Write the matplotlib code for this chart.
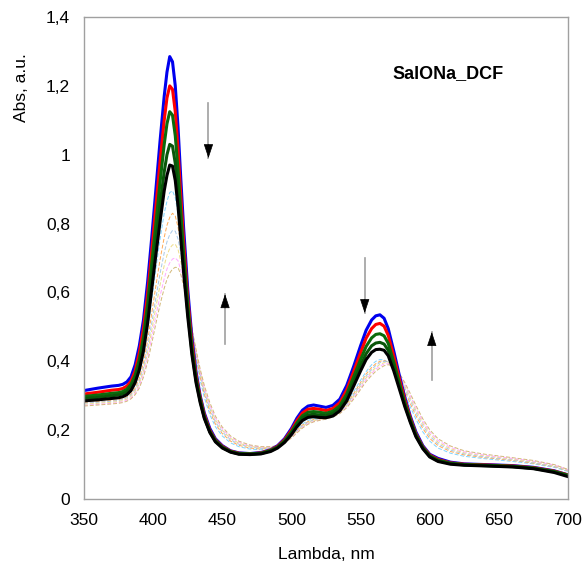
import numpy as np
import matplotlib
matplotlib.use('Agg')
import matplotlib.pyplot as plt
from matplotlib.ticker import FuncFormatter

plt.rcParams['font.family'] = ['Liberation Sans', 'DejaVu Sans']

# wavelength grid (nm)
wl = [350, 360, 370, 375, 378, 381, 384, 387, 390, 393,
      396, 399, 402, 405, 408, 410, 412, 414, 416, 418,
      420, 422, 425, 428, 431, 434, 437, 441, 445, 450,
      456, 462, 470, 478, 485, 490, 495, 500, 504, 508,
      512, 516, 520, 525, 530, 535, 540, 545, 550, 554,
      558, 561, 564, 567, 570, 574, 578, 582, 586, 590,
      595, 600, 606, 615, 625, 640, 660, 675, 690, 700]

# thick spectra (absorbance going down)
abs_blue = [0.315, 0.322, 0.328, 0.330, 0.333, 0.340, 0.355, 0.39, 0.445, 0.52,
            0.63, 0.76, 0.90, 1.04, 1.17, 1.24, 1.285, 1.27, 1.20, 1.08,
            0.93, 0.79, 0.61, 0.47, 0.37, 0.30, 0.25, 0.205, 0.175, 0.155,
            0.14, 0.134, 0.132, 0.135, 0.143, 0.155, 0.175, 0.205, 0.235, 0.258,
            0.27, 0.273, 0.27, 0.266, 0.272, 0.29, 0.33, 0.385, 0.445, 0.49,
            0.52, 0.532, 0.535, 0.525, 0.495, 0.43, 0.36, 0.295, 0.24, 0.195,
            0.155, 0.13, 0.118, 0.107, 0.102, 0.10, 0.097, 0.092, 0.082, 0.07]
abs_red = [0.305, 0.31, 0.316, 0.318, 0.321, 0.328, 0.342, 0.372, 0.425, 0.495,
           0.595, 0.72, 0.85, 0.98, 1.10, 1.165, 1.20, 1.19, 1.125, 1.015,
           0.88, 0.75, 0.585, 0.455, 0.36, 0.295, 0.245, 0.2, 0.172, 0.153,
           0.139, 0.133, 0.131, 0.134, 0.142, 0.153, 0.172, 0.2, 0.228, 0.25,
           0.261, 0.263, 0.261, 0.257, 0.263, 0.28, 0.317, 0.37, 0.425, 0.467,
           0.495, 0.507, 0.51, 0.502, 0.475, 0.415, 0.35, 0.288, 0.235, 0.19,
           0.152, 0.128, 0.115, 0.105, 0.101, 0.099, 0.096, 0.091, 0.081, 0.07]
abs_green1 = [0.298, 0.302, 0.307, 0.309, 0.312, 0.319, 0.333, 0.36, 0.405, 0.47,
              0.565, 0.685, 0.80, 0.92, 1.03, 1.09, 1.125, 1.115, 1.055, 0.955,
              0.835, 0.715, 0.565, 0.44, 0.35, 0.29, 0.24, 0.197, 0.17, 0.151,
              0.138, 0.132, 0.131, 0.133, 0.141, 0.151, 0.169, 0.195, 0.221, 0.242,
              0.252, 0.254, 0.252, 0.249, 0.255, 0.271, 0.305, 0.355, 0.405, 0.443,
              0.468, 0.478, 0.48, 0.474, 0.452, 0.398, 0.338, 0.28, 0.23, 0.187,
              0.15, 0.126, 0.113, 0.104, 0.1, 0.098, 0.095, 0.09, 0.08, 0.069]
abs_green2 = [0.292, 0.295, 0.3, 0.302, 0.305, 0.311, 0.324, 0.35, 0.39, 0.45,
              0.535, 0.645, 0.75, 0.855, 0.95, 1.0, 1.03, 1.025, 0.975, 0.89,
              0.785, 0.68, 0.545, 0.43, 0.345, 0.285, 0.237, 0.195, 0.168, 0.15,
              0.137, 0.131, 0.13, 0.132, 0.14, 0.15, 0.167, 0.191, 0.215, 0.235,
              0.244, 0.246, 0.244, 0.242, 0.248, 0.263, 0.295, 0.34, 0.387, 0.422,
              0.445, 0.453, 0.455, 0.45, 0.432, 0.383, 0.328, 0.274, 0.226, 0.184,
              0.148, 0.124, 0.111, 0.103, 0.099, 0.097, 0.094, 0.089, 0.079, 0.068]
abs_black = [0.285, 0.288, 0.292, 0.294, 0.297, 0.303, 0.315, 0.338, 0.375, 0.43,
             0.51, 0.61, 0.71, 0.805, 0.895, 0.94, 0.97, 0.967, 0.925, 0.85,
             0.755, 0.66, 0.53, 0.42, 0.338, 0.28, 0.234, 0.193, 0.166, 0.148,
             0.136, 0.13, 0.129, 0.131, 0.138, 0.148, 0.164, 0.187, 0.21, 0.228,
             0.237, 0.239, 0.237, 0.236, 0.241, 0.256, 0.285, 0.328, 0.372, 0.405,
             0.426, 0.434, 0.435, 0.432, 0.416, 0.372, 0.32, 0.268, 0.222, 0.181,
             0.146, 0.122, 0.109, 0.101, 0.098, 0.096, 0.093, 0.088, 0.077, 0.065]

# thin dashed spectra (later times)
abs_t1 = [0.285, 0.288, 0.291, 0.293, 0.296, 0.302, 0.313, 0.333, 0.365, 0.415,
          0.49, 0.58, 0.67, 0.755, 0.83, 0.865, 0.89, 0.895, 0.875, 0.83,
          0.77, 0.70, 0.59, 0.49, 0.41, 0.345, 0.295, 0.245, 0.21, 0.183,
          0.163, 0.152, 0.145, 0.143, 0.147, 0.153, 0.166, 0.185, 0.203, 0.218,
          0.228, 0.233, 0.235, 0.236, 0.243, 0.258, 0.28, 0.312, 0.345, 0.37,
          0.39, 0.4, 0.405, 0.404, 0.397, 0.375, 0.343, 0.305, 0.267, 0.232,
          0.195, 0.168, 0.148, 0.133, 0.124, 0.117, 0.109, 0.102, 0.092, 0.08]
abs_t2 = [0.28, 0.283, 0.286, 0.288, 0.291, 0.296, 0.305, 0.322, 0.35, 0.395,
          0.46, 0.54, 0.62, 0.695, 0.76, 0.795, 0.818, 0.83, 0.822, 0.79,
          0.74, 0.68, 0.585, 0.495, 0.42, 0.355, 0.305, 0.255, 0.218, 0.19,
          0.168, 0.156, 0.148, 0.145, 0.148, 0.154, 0.166, 0.184, 0.2, 0.215,
          0.225, 0.231, 0.234, 0.236, 0.242, 0.255, 0.276, 0.306, 0.338, 0.363,
          0.382, 0.393, 0.4, 0.402, 0.398, 0.38, 0.35, 0.314, 0.277, 0.242,
          0.205, 0.176, 0.155, 0.138, 0.128, 0.12, 0.112, 0.104, 0.094, 0.082]
abs_t3 = [0.278, 0.281, 0.284, 0.286, 0.289, 0.294, 0.302, 0.317, 0.342, 0.382,
          0.44, 0.512, 0.585, 0.655, 0.715, 0.747, 0.768, 0.78, 0.778, 0.755,
          0.715, 0.665, 0.58, 0.495, 0.425, 0.362, 0.312, 0.262, 0.224, 0.195,
          0.172, 0.159, 0.151, 0.147, 0.149, 0.154, 0.165, 0.182, 0.198, 0.212,
          0.223, 0.229, 0.233, 0.235, 0.241, 0.253, 0.273, 0.302, 0.333, 0.357,
          0.376, 0.388, 0.396, 0.4, 0.398, 0.383, 0.356, 0.322, 0.286, 0.251,
          0.213, 0.183, 0.16, 0.142, 0.131, 0.122, 0.114, 0.106, 0.095, 0.083]
abs_t4 = [0.275, 0.278, 0.281, 0.283, 0.286, 0.29, 0.298, 0.312, 0.335, 0.372,
          0.425, 0.49, 0.558, 0.622, 0.678, 0.708, 0.728, 0.738, 0.74, 0.725,
          0.69, 0.648, 0.572, 0.495, 0.428, 0.368, 0.318, 0.268, 0.23, 0.2,
          0.176, 0.162, 0.153, 0.149, 0.15, 0.155, 0.165, 0.181, 0.196, 0.21,
          0.221, 0.227, 0.231, 0.234, 0.24, 0.251, 0.27, 0.298, 0.328, 0.352,
          0.37, 0.382, 0.391, 0.396, 0.396, 0.385, 0.36, 0.328, 0.293, 0.258,
          0.22, 0.189, 0.165, 0.146, 0.134, 0.125, 0.116, 0.108, 0.097, 0.084]
abs_t5 = [0.272, 0.275, 0.278, 0.28, 0.283, 0.287, 0.294, 0.307, 0.328, 0.362,
          0.41, 0.47, 0.532, 0.59, 0.64, 0.668, 0.686, 0.697, 0.7, 0.692,
          0.665, 0.628, 0.562, 0.492, 0.43, 0.372, 0.323, 0.273, 0.235, 0.204,
          0.179, 0.165, 0.155, 0.151, 0.151, 0.155, 0.164, 0.179, 0.194, 0.208,
          0.219, 0.225, 0.229, 0.233, 0.239, 0.25, 0.268, 0.294, 0.323, 0.347,
          0.365, 0.377, 0.386, 0.392, 0.393, 0.385, 0.363, 0.333, 0.299, 0.265,
          0.226, 0.195, 0.17, 0.15, 0.137, 0.127, 0.118, 0.11, 0.099, 0.085]
abs_t6 = [0.27, 0.273, 0.276, 0.278, 0.28, 0.284, 0.291, 0.303, 0.322, 0.354,
          0.398, 0.452, 0.51, 0.565, 0.612, 0.638, 0.656, 0.668, 0.673, 0.672,
          0.652, 0.62, 0.56, 0.495, 0.435, 0.378, 0.33, 0.28, 0.241, 0.209,
          0.183, 0.168, 0.157, 0.152, 0.152, 0.155, 0.163, 0.177, 0.192, 0.206,
          0.217, 0.224, 0.228, 0.232, 0.238, 0.248, 0.265, 0.29, 0.318, 0.341,
          0.359, 0.371, 0.38, 0.387, 0.39, 0.385, 0.366, 0.338, 0.306, 0.272,
          0.233, 0.201, 0.175, 0.154, 0.14, 0.13, 0.12, 0.112, 0.1, 0.086]

thick = [abs_blue, abs_red, abs_green1, abs_green2, abs_black]
thick_colors = ['#0000ee', '#ff0000', '#0b6b0b', '#0a560a', '#000000']
thin = [abs_t1, abs_t2, abs_t3, abs_t4, abs_t5, abs_t6]
thin_colors = ['#7fd4ff', '#ffaa55', '#a8c8e8', '#eedd88', '#ffaaff', '#d2b878']

# arrows: (x, y_start, y_end) in data units
arrows = [(440, 1.15, 0.99), (452, 0.45, 0.595), (553, 0.70, 0.54), (601.5, 0.345, 0.485)]

fig = plt.figure(figsize=(5.86, 5.69), dpi=100)
ax = fig.add_axes([84 / 586, 1 - 499 / 569, 484 / 586, 482 / 569])

for y, c in zip(thin, thin_colors):
    ax.plot(wl, y, color=c, lw=0.7, ls=(0, (4, 2)))
for y, c in zip(thick, thick_colors):
    ax.plot(wl, y, color=c, lw=2.2, solid_joinstyle='round')

for x, y0, y1 in arrows:
    ax.plot([x, x], [y0, y1], color='#a0a0a0', lw=1.2)
    d = 0.04 if y1 < y0 else -0.04
    ax.annotate('', xy=(x, y1), xytext=(x, y1 + d),
                arrowprops=dict(arrowstyle='-|>,head_length=0.9,head_width=0.3',
                                color='black', lw=0.5, shrinkA=0, shrinkB=0))

ax.text(573, 1.235, 'SalONa_DCF', fontsize=13, fontweight='bold', va='center')

ax.set_xlim(350, 700)
ax.set_ylim(0, 1.4)
ax.set_xticks(np.arange(350, 701, 50))
ax.set_yticks(np.arange(0, 1.41, 0.2))
ax.yaxis.set_major_formatter(FuncFormatter(lambda v, p: ('%g' % round(v, 1)).replace('.', ',')))
ax.tick_params(length=0, labelsize=12.5, colors='black')
ax.tick_params(axis='y', pad=10)
ax.tick_params(axis='x', pad=10)
for s in ax.spines.values():
    s.set_color('#a0a0a0')
    s.set_linewidth(1.0)

ax.set_xlabel('Lambda, nm', fontsize=12.5, labelpad=14)
fig.text(22 / 586, 1 - 88 / 569, 'Abs, a.u.', rotation=90, fontsize=12.5, ha='center', va='center')

fig.savefig('out.png', dpi=100)
